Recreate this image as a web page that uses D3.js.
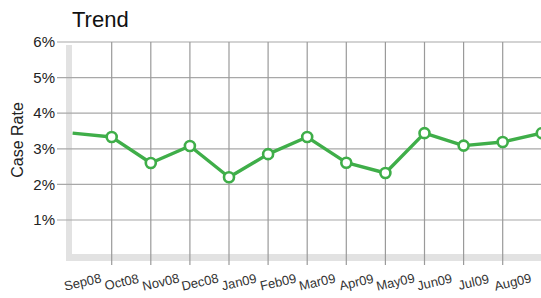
<!DOCTYPE html>
<html>
<head>
<meta charset="utf-8">
<script src="https://cdn.jsdelivr.net/npm/d3@7"></script>
<style>
  body { margin: 0; background: #fff; }
  text { font-family: "Liberation Sans", Arial, sans-serif; }
</style>
</head>
<body>
<svg id="chart" width="541" height="298"></svg>
<script>
// months on the x axis (Sep09 runs off the right edge, no label shown)
const months = ['Sep08', 'Oct08', 'Nov08', 'Dec08', 'Jan09', 'Feb09', 'Mar09',
  'Apr09', 'May09', 'Jun09', 'Jul09', 'Aug09', 'Sep09']
const monthLabels = months.slice(0, 12)
// case rate in percent
const caseRate = [3.44, 3.33, 2.6, 3.08, 2.2, 2.85, 3.33, 2.61, 2.32, 3.44, 3.09, 3.19, 3.44]
const yTicks = [1, 2, 3, 4, 5, 6]

const width = 541
const height = 298
const green = '#3fae49'

let svg = d3.select('#chart')

let x = d3.scalePoint()
  .domain(months)
  .range([72.6, 541.8])

let y = d3.scaleLinear()
  .domain([0, 6])
  .range([255.6, 42])

// light gray axis bands
svg.append('rect')
  .attr('x', 66).attr('y', 45)
  .attr('width', 6).attr('height', 216)
  .attr('fill', '#e2e2e2')
svg.append('rect')
  .attr('x', 66).attr('y', 254)
  .attr('width', width - 66).attr('height', 7)
  .attr('fill', '#e2e2e2')

// horizontal grid
svg.append('g')
  .selectAll('line')
  .data(yTicks)
  .enter().append('line')
  .attr('x1', 57).attr('x2', width)
  .attr('y1', d => y(d)).attr('y2', d => y(d))
  .attr('stroke', '#a8a8a8')
  .attr('stroke-width', 1.2)

// vertical grid (first month sits on the band)
svg.append('g')
  .selectAll('line')
  .data(months.slice(1))
  .enter().append('line')
  .attr('x1', d => x(d)).attr('x2', d => x(d))
  .attr('y1', y(6)).attr('y2', 265)
  .attr('stroke', '#9a9a9a')
  .attr('stroke-width', 1.2)

// y tick labels
svg.append('g')
  .selectAll('text')
  .data(yTicks)
  .enter().append('text')
  .attr('x', 55)
  .attr('y', d => y(d))
  .attr('dy', '0.35em')
  .attr('text-anchor', 'end')
  .attr('font-size', 15)
  .attr('fill', '#222')
  .text(d => d + '%')

// x tick labels, slightly tilted
svg.append('g')
  .selectAll('text')
  .data(monthLabels)
  .enter().append('text')
  .attr('transform', d => `translate(${x(d) + 10},${282}) rotate(-13)`)
  .attr('dy', '0.35em')
  .attr('text-anchor', 'middle')
  .attr('font-size', 13)
  .attr('fill', '#333')
  .text(d => d)

// titles
svg.append('text')
  .attr('x', 72).attr('y', 27)
  .attr('font-size', 22)
  .attr('fill', '#111')
  .text('Trend')

svg.append('text')
  .attr('transform', 'translate(23,140) rotate(-90)')
  .attr('text-anchor', 'middle')
  .attr('font-size', 16)
  .attr('fill', '#222')
  .text('Case Rate')

// line + markers
let data = months.map((m, i) => ({ month: m, value: caseRate[i] }))

svg.append('clipPath')
  .attr('id', 'plot-clip')
  .append('rect')
  .attr('x', 70).attr('y', 0)
  .attr('width', width - 70).attr('height', height)

let plot = svg.append('g').attr('clip-path', 'url(#plot-clip)')

let line = d3.line()
  .x(d => x(d.month))
  .y(d => y(d.value))

plot.append('path')
  .datum(data)
  .attr('d', line)
  .attr('fill', 'none')
  .attr('stroke', green)
  .attr('stroke-width', 3.4)
  .attr('stroke-linejoin', 'round')

plot.selectAll('circle')
  .data(data.slice(1))
  .enter().append('circle')
  .attr('cx', d => x(d.month))
  .attr('cy', d => y(d.value))
  .attr('r', 5)
  .attr('fill', '#fff')
  .attr('stroke', green)
  .attr('stroke-width', 2.6)
</script>
</body>
</html>
